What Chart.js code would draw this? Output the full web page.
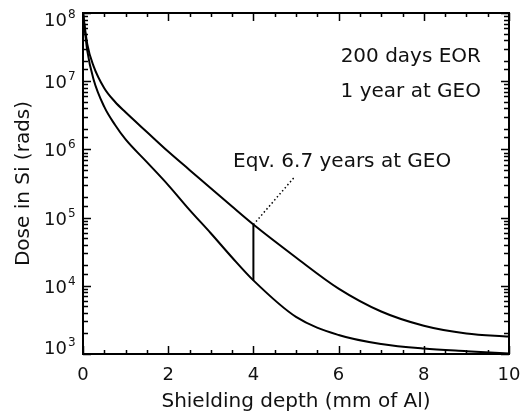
<!DOCTYPE html>
<html lang="en">
<head>
<meta charset="UTF-8" />
<title>Dose in Si vs shielding depth</title>
<script src="https://cdn.jsdelivr.net/npm/chart.js@4.4.0/dist/chart.umd.min.js"></script>
<style>
  html, body { margin: 0; padding: 0; background: #fff; }
  #wrap { width: 522px; height: 416px; }
</style>
</head>
<body>
<div id="wrap"><canvas id="doseChart" width="522" height="416"></canvas></div>
<script>
  // shielding depth (mm of Al)
  const depth = [0, 0.1, 0.25, 0.5, 0.75, 1, 1.5, 2, 2.5, 3, 3.5, 4, 5, 6, 7, 8, 9, 10];
  // 200 days EOR (upper curve), rads
  const eorDose = [1.0e8, 3.5e7, 1.65e7, 7.9e6, 5.0e6, 3.5e6, 1.8e6, 9.3e5, 5.0e5, 2.7e5, 1.45e5, 7.9e4, 2.6e4, 9.1e3, 4.2e3, 2.6e3, 2.0e3, 1.8e3];
  // 1 year at GEO (lower curve), rads
  const geoDose = [1.0e8, 2.8e7, 1.05e7, 4.2e6, 2.3e6, 1.4e6, 6.5e5, 3.0e5, 1.3e5, 5.9e4, 2.6e4, 1.2e4, 3.5e3, 1.9e3, 1.4e3, 1.2e3, 1.1e3, 1.02e3];

  // vertical marker at 4 mm and dotted leader to the label
  const markX = [4, 4];
  const markY = [1.2e4, 7.9e4];
  const leaderX = [4, 4.96];
  const leaderY = [7.9e4, 3.9e5];

  const xTickLabels = [0, 2, 4, 6, 8, 10];
  const yTickExps = [3, 4, 5, 6, 7, 8];

  const FONT = "'DejaVu Sans', sans-serif";
  const toXY = (xs, ys) => xs.map((x, i) => ({ x: x, y: ys[i] }));

  // box, inward ticks on all four sides, labels and notes
  const frame = {
    id: 'frame',
    afterDraw(chart) {
      const { ctx, chartArea: a, scales: { x, y } } = chart;
      ctx.save();
      ctx.strokeStyle = '#000';
      ctx.lineWidth = 2;
      ctx.strokeRect(a.left, a.top, a.right - a.left, a.bottom - a.top);

      ctx.lineWidth = 1.5;
      ctx.beginPath();
      x.ticks.forEach(t => {
        const px = Math.round(x.getPixelForValue(t.value)) + 0.5;
        const len = (t.value % 2 === 0) ? 8 : 4;
        ctx.moveTo(px, a.bottom); ctx.lineTo(px, a.bottom - len);
        ctx.moveTo(px, a.top); ctx.lineTo(px, a.top + len);
      });
      y.ticks.forEach(t => {
        const lg = Math.log10(t.value);
        const major = Math.abs(lg - Math.round(lg)) < 1e-9;
        const py = Math.round(y.getPixelForValue(t.value)) + 0.5;
        const len = major ? 8 : 5;
        ctx.moveTo(a.left, py); ctx.lineTo(a.left + len, py);
        ctx.moveTo(a.right, py); ctx.lineTo(a.right - len, py);
      });
      ctx.stroke();

      ctx.fillStyle = '#111';
      ctx.textBaseline = 'alphabetic';

      // x tick labels
      ctx.font = '18px ' + FONT;
      ctx.textAlign = 'center';
      xTickLabels.forEach(v => {
        ctx.fillText(String(v), x.getPixelForValue(v), 380);
      });

      // y tick labels 10^n
      yTickExps.forEach(e => {
        const py = y.getPixelForValue(Math.pow(10, e));
        let base = py + 7;
        if (e === 8) base = py + 13;
        if (e === 3) base = py;
        ctx.font = '18px ' + FONT;
        ctx.textAlign = 'right';
        ctx.fillText('10', 67, base);
        ctx.font = '12px ' + FONT;
        ctx.textAlign = 'left';
        ctx.fillText(String(e), 68, base - 8);
      });

      // axis titles
      ctx.font = '20px ' + FONT;
      ctx.textAlign = 'center';
      ctx.fillText('Shielding depth (mm of Al)', (a.left + a.right) / 2, 407);
      ctx.save();
      ctx.translate(29, (a.top + a.bottom) / 2);
      ctx.rotate(-Math.PI / 2);
      ctx.fillText('Dose in Si (rads)', 0, 0);
      ctx.restore();

      // notes
      ctx.textAlign = 'right';
      ctx.fillText('200 days EOR', 481, 62);
      ctx.fillText('1 year at GEO', 481, 97);
      ctx.textAlign = 'left';
      ctx.fillText('Eqv. 6.7 years at GEO', 233, 167);
      ctx.restore();
    }
  };

  const lineStyle = { borderColor: '#000', borderWidth: 2, pointRadius: 0, fill: false };

  new Chart(document.getElementById('doseChart'), {
    type: 'line',
    data: {
      datasets: [
        Object.assign({ label: '200 days EOR', data: toXY(depth, eorDose), cubicInterpolationMode: 'monotone' }, lineStyle),
        Object.assign({ label: '1 year at GEO', data: toXY(depth, geoDose), cubicInterpolationMode: 'monotone' }, lineStyle),
        Object.assign({ label: 'marker', data: toXY(markX, markY) }, lineStyle),
        { label: 'leader', data: toXY(leaderX, leaderY), borderColor: '#000', borderWidth: 1.5,
          borderDash: [1.5, 2.5], pointRadius: 0, fill: false }
      ]
    },
    options: {
      responsive: false,
      animation: false,
      layout: { padding: { top: 13, right: 13, left: 0, bottom: 0 } },
      plugins: { legend: { display: false }, tooltip: { enabled: false } },
      scales: {
        x: {
          type: 'linear', min: 0, max: 10,
          ticks: { display: false, stepSize: 0.5 },
          grid: { display: false }, border: { display: false },
          afterFit: s => { s.height = 62; }
        },
        y: {
          type: 'logarithmic', min: 1e3, max: 1e8,
          ticks: { display: false },
          grid: { display: false }, border: { display: false },
          afterFit: s => { s.width = 83; }
        }
      }
    },
    plugins: [frame]
  });
</script>
</body>
</html>
